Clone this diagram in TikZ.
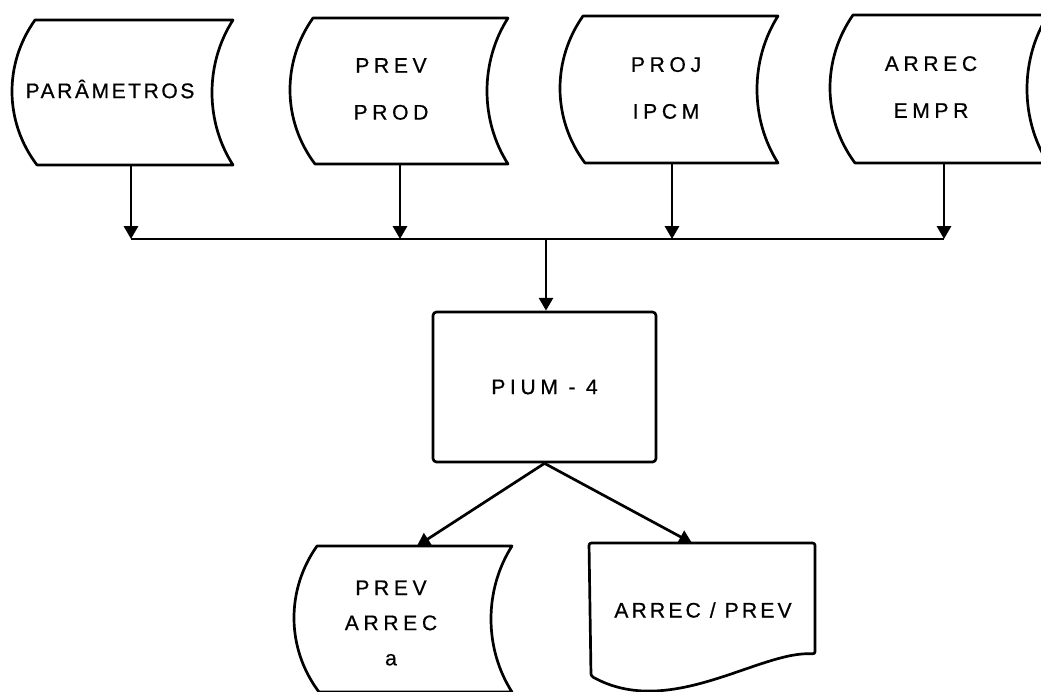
\documentclass[tikz,border=0pt]{standalone}
\usepackage{fontspec}
\setmainfont{Liberation Sans}
\newfontfamily\lbl[LetterSpace=22,FakeBold=0.6]{Liberation Sans}
\newfontfamily\lblp[LetterSpace=12,FakeBold=0.6]{Liberation Sans}
\newfontfamily\lbld[LetterSpace=15,FakeBold=0.6]{Liberation Sans}
\usetikzlibrary{arrows.meta,calc}
\newcommand\storedshape[4]{%
  \draw[line] (#1,#2) -- (#3,#2)
    .. controls ({#3-28},{#2+0.3*(#4-#2)}) and ({#3-28},{#4-0.3*(#4-#2)}) .. (#3,#4)
    -- ({#1+2},#4)
    .. controls ({#1-31},{#4-0.3*(#4-#2)}) and ({#1-31},{#2+0.3*(#4-#2)}) .. (#1,#2) -- cycle;}
\begin{document}
\begin{tikzpicture}[x=0.03cm,y=-0.03cm,
  line/.style={line width=2.3pt, line join=round},
  arr/.style={line, -{Triangle[width=12pt,length=11pt]}},
  txt/.style={font=\fontsize{18}{40}\lbl, inner sep=0pt, align=center},
  txtb/.style={font=\fontsize{18}{30}\lbl, inner sep=0pt, align=center},
]
\clip (0,0) rectangle (1041,691);
\fill[white] (0,0) rectangle (1041,691);

% top storage shapes
\storedshape{35}{20}{233}{165}
\storedshape{313}{18}{508}{164}
\storedshape{583}{16}{778}{163}
\storedshape{853}{15}{1048}{163}

\node[txt, font=\fontsize{18}{40}\lblp] (s1) at (110,89) {PARÂMETROS};
\node[txt] (s2) at (391,89) {PREV\\PROD};
\node[txt] (s3) at (666,88) {PROJ\\IPCM};
\node[txt] (s4) at (931,87) {ARREC\\EMPR};

% bus
\coordinate (a1) at (131,165);
\coordinate (a2) at (400,164);
\coordinate (a3) at (672,163);
\coordinate (a4) at (944,163);
\coordinate (j1) at (131,239);
\coordinate (j2) at (400,239);
\coordinate (j3) at (672,239);
\coordinate (j4) at (944,239);
\coordinate (jm) at (546,239);
\draw[line] (j1) -- (j4);
\foreach \i in {1,2,3,4}{\draw[arr] (a\i) -- (j\i);}

% process box
\node[line, draw, rounded corners=3pt, minimum width=6.69cm, minimum height=4.5cm,
      font=\fontsize{18}{22}\lbl, inner sep=0pt] (box) at (544.5,387) {PIUM - 4};
\draw[arr] (jm) -- (jm |- box.north);

% outputs
\storedshape{317}{546}{512}{692}
\node[txtb] (o1) at (391,623) {PREV\\ARREC\\a};
\draw[line, rounded corners=2pt] (589,543) -- (815,543) -- (815,654)
   .. controls (760,650) and (670,720) .. (591,676) -- cycle;
\node[txt, font=\fontsize{18}{22}\lbld] (o2) at (703,610) {ARREC / PREV};

\coordinate (o1t) at (417,546);
\coordinate (o2t) at (692,543);
\draw[arr] (box.south) -- (o1t);
\draw[arr] (box.south) -- (o2t);
\end{tikzpicture}
\end{document}
